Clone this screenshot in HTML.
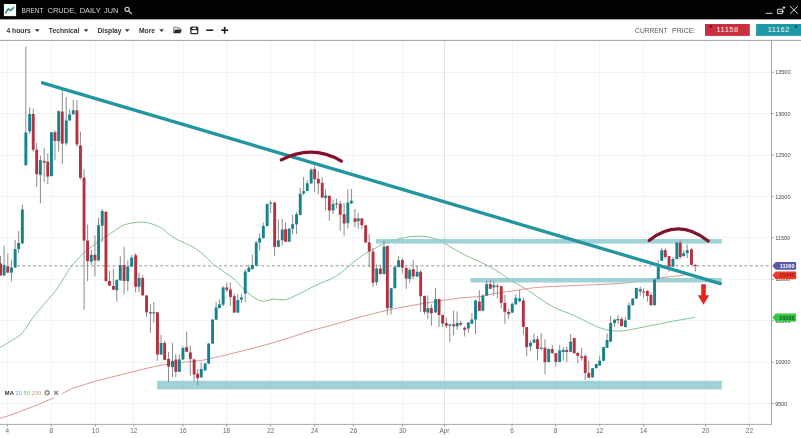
<!DOCTYPE html>
<html><head><meta charset="utf-8"><title>Brent Crude Chart</title><style>
html,body{margin:0;padding:0;background:#fff;overflow:hidden;width:801px;height:438px}
svg{display:block}
text{font-family:"Liberation Sans",sans-serif}
.tt{font-size:6.6px;fill:#d9d9d9}
.tb{font-size:6.75px;font-weight:bold;fill:#333}
.cp{font-size:6.8px;fill:#555}
.pr{font-size:7.6px;fill:#fbeef0;letter-spacing:0.45px}
.ax{font-size:5.5px;fill:#444}
.dx{font-size:6.4px;fill:#666}
.tg{font-size:5.6px;font-weight:bold}
.lg{font-size:5.8px}
</style></head>
<body><svg width="801" height="438" viewBox="0 0 801 438">
<rect width="801" height="438" fill="#fff"/>
<g><g stroke="#f3f3f3" stroke-width="1" shape-rendering="crispEdges"><line x1="0" y1="72.2" x2="771" y2="72.2"/><line x1="0" y1="113.6" x2="771" y2="113.6"/><line x1="0" y1="155.0" x2="771" y2="155.0"/><line x1="0" y1="196.4" x2="771" y2="196.4"/><line x1="0" y1="237.8" x2="771" y2="237.8"/><line x1="0" y1="279.2" x2="771" y2="279.2"/><line x1="0" y1="320.7" x2="771" y2="320.7"/><line x1="0" y1="362.1" x2="771" y2="362.1"/><line x1="0" y1="403.5" x2="771" y2="403.5"/><line x1="7.6" y1="41" x2="7.6" y2="424"/><line x1="51.2" y1="41" x2="51.2" y2="424"/><line x1="95.2" y1="41" x2="95.2" y2="424"/><line x1="133.6" y1="41" x2="133.6" y2="424"/><line x1="183.0" y1="41" x2="183.0" y2="424"/><line x1="226.5" y1="41" x2="226.5" y2="424"/><line x1="270.8" y1="41" x2="270.8" y2="424"/><line x1="314.6" y1="41" x2="314.6" y2="424"/><line x1="353.4" y1="41" x2="353.4" y2="424"/><line x1="402.6" y1="41" x2="402.6" y2="424"/><line x1="512.0" y1="41" x2="512.0" y2="424"/><line x1="555.6" y1="41" x2="555.6" y2="424"/><line x1="599.8" y1="41" x2="599.8" y2="424"/><line x1="643.6" y1="41" x2="643.6" y2="424"/><line x1="705.6" y1="41" x2="705.6" y2="424"/><line x1="749.4" y1="41" x2="749.4" y2="424"/></g><line x1="444.4" y1="41" x2="444.4" y2="424" stroke="#e3e3e3" stroke-width="1" shape-rendering="crispEdges"/><path d="M0.0,347.5 C2.1,346.2 8.8,342.5 12.6,340.0 C16.4,337.5 19.2,336.2 22.6,332.5 C26.0,328.8 28.9,322.8 32.7,317.9 C36.5,312.9 41.0,307.8 45.2,302.8 C49.4,297.8 53.6,293.6 57.8,287.7 C62.0,281.8 66.2,273.2 70.4,267.6 C74.6,262.0 78.7,257.8 82.9,253.8 C87.1,249.8 91.1,247.1 95.5,243.8 C99.9,240.5 104.8,237.3 109.5,234.2 C114.2,231.1 118.7,227.1 123.7,225.1 C128.7,223.1 135.3,222.4 139.7,222.1 C144.1,221.8 146.4,222.4 150.0,223.4 C153.6,224.4 157.4,225.7 161.2,227.9 C164.9,230.2 168.8,234.5 172.5,236.9 C176.2,239.3 180.0,240.6 183.7,242.5 C187.4,244.4 191.2,245.7 194.9,248.1 C198.7,250.5 203.0,254.4 206.2,257.1 C209.3,259.9 210.7,262.0 213.8,264.6 C216.9,267.2 221.7,270.2 224.9,272.5 C228.1,274.8 229.7,275.3 232.9,278.1 C236.1,280.9 240.6,286.1 244.1,289.3 C247.6,292.5 250.5,295.3 253.7,297.3 C256.8,299.3 259.7,300.9 263.0,301.2 C266.3,301.5 270.0,299.3 273.6,299.1 C277.2,298.9 281.1,300.4 284.8,299.8 C288.6,299.2 292.4,297.0 296.1,295.3 C299.9,293.6 303.6,291.6 307.3,289.7 C311.0,287.8 314.7,285.7 318.5,284.0 C322.3,282.3 326.2,281.3 330.0,279.4 C333.8,277.5 337.6,275.3 341.4,272.5 C345.2,269.7 349.0,265.8 352.8,262.8 C356.6,259.8 360.4,256.8 364.2,254.3 C368.0,251.8 371.8,250.1 375.7,248.0 C379.6,245.9 383.6,243.4 387.4,241.9 C391.2,240.4 394.9,239.8 398.7,238.9 C402.4,238.0 406.2,237.1 409.9,236.7 C413.6,236.2 417.4,236.0 421.1,236.2 C424.9,236.4 429.2,237.2 432.4,238.0 C435.5,238.8 436.6,239.0 440.0,240.7 C443.4,242.4 448.4,245.8 452.6,248.2 C456.8,250.6 460.9,253.0 465.1,255.1 C469.3,257.2 473.5,258.8 477.7,260.8 C481.9,262.8 486.6,265.0 490.3,267.0 C494.0,269.0 496.5,270.6 500.0,272.9 C503.5,275.2 507.6,278.4 511.4,280.8 C515.2,283.2 519.0,284.8 522.8,287.1 C526.6,289.4 530.4,291.9 534.2,294.5 C538.0,297.1 541.8,300.1 545.6,302.5 C549.4,304.9 553.1,307.0 557.0,308.8 C560.9,310.6 564.6,311.5 568.7,313.2 C572.8,314.9 577.4,317.1 581.8,319.2 C586.2,321.3 590.5,324.0 594.9,325.8 C599.3,327.6 603.6,329.3 608.0,330.2 C612.4,331.1 616.7,331.2 621.1,331.0 C625.5,330.8 629.8,329.7 634.2,328.9 C638.6,328.1 642.9,327.2 647.3,326.3 C651.7,325.4 656.0,324.6 660.4,323.7 C664.8,322.8 667.8,322.2 673.5,321.1 C679.2,320.1 691.2,318.0 694.7,317.4" fill="none" stroke="#86c392" stroke-width="1"/><path d="M0.0,418.3 C1.3,417.9 5.2,416.8 7.8,416.0 C10.4,415.2 12.9,414.2 15.5,413.3 C18.1,412.4 20.7,411.3 23.3,410.3 C25.9,409.3 28.4,408.2 31.0,407.2 C33.6,406.2 36.2,405.4 38.8,404.4 C41.4,403.3 44.3,401.9 46.6,400.9 C48.9,399.9 50.6,399.4 52.8,398.4 C55.0,397.4 57.1,396.5 60.0,395.0 C62.9,393.5 66.7,390.9 70.0,389.4 C73.3,387.9 75.0,387.6 80.0,386.0 C85.0,384.4 93.3,381.8 100.0,380.0 C106.7,378.2 113.3,376.7 120.0,375.0 C126.7,373.3 133.3,371.6 140.0,370.0 C146.7,368.4 153.3,366.6 160.0,365.4 C166.7,364.2 173.3,363.4 180.0,362.6 C186.7,361.8 195.0,361.3 200.0,360.6 C205.0,359.9 205.0,359.7 210.0,358.6 C215.0,357.5 223.3,355.6 230.0,354.0 C236.7,352.4 243.3,350.7 250.0,349.0 C256.7,347.3 263.3,345.5 270.0,343.6 C276.7,341.7 283.3,339.7 290.0,337.6 C296.7,335.5 303.3,333.0 310.0,331.0 C316.7,329.0 324.2,327.2 330.0,325.6 C335.8,324.0 340.0,322.7 345.0,321.3 C350.0,319.9 354.2,318.6 360.0,317.0 C365.8,315.4 373.3,313.6 380.0,312.0 C386.7,310.4 393.3,308.9 400.0,307.6 C406.7,306.3 413.3,305.1 420.0,304.0 C426.7,302.9 433.3,302.0 440.0,301.0 C446.7,300.0 453.3,298.8 460.0,298.0 C466.7,297.2 475.0,297.1 480.0,296.5 C485.0,295.9 486.1,295.2 490.0,294.5 C493.9,293.8 499.8,292.8 503.4,292.2 C507.0,291.6 508.2,291.6 511.4,291.1 C514.6,290.6 519.0,289.8 522.8,289.2 C526.6,288.6 530.4,288.1 534.2,287.7 C538.0,287.3 541.3,287.1 545.6,286.9 C549.9,286.6 555.1,286.4 560.0,286.2 C564.9,286.0 568.2,285.8 574.9,285.5 C581.5,285.2 591.6,284.9 599.9,284.5 C608.2,284.1 618.1,283.6 624.8,283.0 C631.4,282.4 634.8,281.9 639.8,281.2 C644.8,280.4 649.1,279.3 654.9,278.5 C660.7,277.7 669.8,276.8 674.8,276.2 C679.8,275.6 683.1,275.2 684.8,275.0" fill="none" stroke="#dc9792" stroke-width="1"/><g fill="#8ecbd0" fill-opacity="0.86"><rect x="376" y="239" width="345.8" height="4.6"/><rect x="470.5" y="278" width="251.3" height="4.5"/><rect x="157.1" y="380.8" width="564.7" height="8.6"/></g><line x1="17.06" y1="265.8" x2="771" y2="265.8" stroke="#b8b8b8" stroke-width="1.4" stroke-dasharray="2.9,2.41"/><g stroke="#8c8c8c" stroke-width="1"><line x1="0.5" y1="255.9" x2="0.5" y2="276.0"/><line x1="4.1" y1="245.6" x2="4.1" y2="276.4"/><line x1="7.8" y1="253.6" x2="7.8" y2="273.0"/><line x1="11.4" y1="259.8" x2="11.4" y2="281.5"/><line x1="15.1" y1="240.0" x2="15.1" y2="268.0"/><line x1="18.7" y1="231.0" x2="18.7" y2="253.0"/><line x1="22.4" y1="204.8" x2="22.4" y2="244.0"/><line x1="25.8" y1="46.4" x2="25.8" y2="165.5"/><line x1="29.7" y1="107.4" x2="29.7" y2="134.0"/><line x1="33.2" y1="108.6" x2="33.2" y2="151.8"/><line x1="36.7" y1="142.7" x2="36.7" y2="187.0"/><line x1="40.4" y1="155.6" x2="40.4" y2="203.2"/><line x1="44.2" y1="148.0" x2="44.2" y2="182.0"/><line x1="47.8" y1="153.3" x2="47.8" y2="184.3"/><line x1="51.5" y1="132.0" x2="51.5" y2="176.5"/><line x1="55.0" y1="130.3" x2="55.0" y2="160.2"/><line x1="58.7" y1="110.5" x2="58.7" y2="151.5"/><line x1="62.3" y1="89.7" x2="62.3" y2="164.2"/><line x1="66.2" y1="97.0" x2="66.2" y2="145.5"/><line x1="69.7" y1="109.3" x2="69.7" y2="121.0"/><line x1="73.3" y1="99.8" x2="73.3" y2="115.0"/><line x1="76.9" y1="99.8" x2="76.9" y2="147.0"/><line x1="80.4" y1="131.6" x2="80.4" y2="179.5"/><line x1="84.1" y1="169.2" x2="84.1" y2="309.7"/><line x1="87.6" y1="224.6" x2="87.6" y2="281.0"/><line x1="91.3" y1="250.0" x2="91.3" y2="265.0"/><line x1="94.9" y1="235.4" x2="94.9" y2="276.4"/><line x1="98.6" y1="217.8" x2="98.6" y2="261.0"/><line x1="102.2" y1="209.0" x2="102.2" y2="242.2"/><line x1="105.9" y1="211.0" x2="105.9" y2="282.0"/><line x1="109.5" y1="270.7" x2="109.5" y2="286.0"/><line x1="113.4" y1="268.9" x2="113.4" y2="290.2"/><line x1="116.8" y1="279.0" x2="116.8" y2="301.7"/><line x1="120.3" y1="255.9" x2="120.3" y2="281.0"/><line x1="124.1" y1="246.8" x2="124.1" y2="294.5"/><line x1="127.8" y1="260.5" x2="127.8" y2="291.3"/><line x1="131.7" y1="254.8" x2="131.7" y2="267.0"/><line x1="135.6" y1="253.0" x2="135.6" y2="292.4"/><line x1="139.0" y1="272.6" x2="139.0" y2="292.4"/><line x1="142.7" y1="275.3" x2="142.7" y2="296.0"/><line x1="146.5" y1="295.0" x2="146.5" y2="317.0"/><line x1="150.4" y1="304.3" x2="150.4" y2="332.9"/><line x1="153.8" y1="302.0" x2="153.8" y2="322.6"/><line x1="157.4" y1="312.0" x2="157.4" y2="360.8"/><line x1="161.0" y1="334.8" x2="161.0" y2="355.0"/><line x1="164.6" y1="340.7" x2="164.6" y2="360.2"/><line x1="168.5" y1="352.1" x2="168.5" y2="382.5"/><line x1="172.5" y1="343.0" x2="172.5" y2="377.3"/><line x1="175.8" y1="354.0" x2="175.8" y2="377.3"/><line x1="179.3" y1="354.5" x2="179.3" y2="372.0"/><line x1="182.9" y1="345.8" x2="182.9" y2="360.0"/><line x1="186.7" y1="331.5" x2="186.7" y2="352.0"/><line x1="190.3" y1="345.7" x2="190.3" y2="375.5"/><line x1="194.1" y1="359.0" x2="194.1" y2="381.4"/><line x1="197.7" y1="369.0" x2="197.7" y2="385.5"/><line x1="201.2" y1="362.2" x2="201.2" y2="378.0"/><line x1="205.1" y1="363.0" x2="205.1" y2="371.0"/><line x1="208.6" y1="343.0" x2="208.6" y2="364.0"/><line x1="212.5" y1="319.0" x2="212.5" y2="344.0"/><line x1="216.1" y1="301.8" x2="216.1" y2="320.0"/><line x1="219.4" y1="299.6" x2="219.4" y2="308.3"/><line x1="223.1" y1="286.4" x2="223.1" y2="306.5"/><line x1="226.8" y1="282.6" x2="226.8" y2="292.2"/><line x1="230.4" y1="282.6" x2="230.4" y2="305.9"/><line x1="234.2" y1="293.3" x2="234.2" y2="313.0"/><line x1="237.8" y1="294.1" x2="237.8" y2="313.0"/><line x1="241.4" y1="294.1" x2="241.4" y2="302.9"/><line x1="245.2" y1="269.0" x2="245.2" y2="302.3"/><line x1="248.8" y1="264.9" x2="248.8" y2="272.0"/><line x1="252.3" y1="254.5" x2="252.3" y2="269.5"/><line x1="256.2" y1="240.8" x2="256.2" y2="266.0"/><line x1="259.7" y1="233.4" x2="259.7" y2="250.7"/><line x1="263.3" y1="222.5" x2="263.3" y2="238.5"/><line x1="267.1" y1="203.3" x2="267.1" y2="226.5"/><line x1="270.7" y1="200.5" x2="270.7" y2="212.9"/><line x1="274.6" y1="202.0" x2="274.6" y2="256.2"/><line x1="278.3" y1="219.3" x2="278.3" y2="247.0"/><line x1="282.2" y1="218.7" x2="282.2" y2="245.8"/><line x1="285.5" y1="222.5" x2="285.5" y2="242.0"/><line x1="289.1" y1="228.0" x2="289.1" y2="242.0"/><line x1="292.6" y1="214.8" x2="292.6" y2="234.2"/><line x1="296.5" y1="212.2" x2="296.5" y2="234.2"/><line x1="300.2" y1="187.8" x2="300.2" y2="215.5"/><line x1="303.6" y1="176.9" x2="303.6" y2="195.2"/><line x1="307.2" y1="179.9" x2="307.2" y2="191.6"/><line x1="311.1" y1="168.4" x2="311.1" y2="184.0"/><line x1="314.6" y1="165.9" x2="314.6" y2="192.0"/><line x1="318.3" y1="171.1" x2="318.3" y2="194.2"/><line x1="322.2" y1="177.4" x2="322.2" y2="198.5"/><line x1="325.6" y1="189.3" x2="325.6" y2="210.5"/><line x1="329.3" y1="195.5" x2="329.3" y2="220.8"/><line x1="333.0" y1="199.7" x2="333.0" y2="214.3"/><line x1="336.5" y1="198.5" x2="336.5" y2="208.5"/><line x1="340.2" y1="200.7" x2="340.2" y2="230.8"/><line x1="344.1" y1="203.2" x2="344.1" y2="235.7"/><line x1="347.8" y1="188.9" x2="347.8" y2="228.6"/><line x1="351.4" y1="188.9" x2="351.4" y2="204.0"/><line x1="355.0" y1="208.8" x2="355.0" y2="227.4"/><line x1="358.2" y1="213.2" x2="358.2" y2="228.6"/><line x1="361.9" y1="218.0" x2="361.9" y2="228.8"/><line x1="365.7" y1="225.0" x2="365.7" y2="243.0"/><line x1="369.2" y1="234.2" x2="369.2" y2="267.1"/><line x1="373.0" y1="248.0" x2="373.0" y2="287.1"/><line x1="376.6" y1="264.4" x2="376.6" y2="285.5"/><line x1="380.4" y1="264.4" x2="380.4" y2="274.5"/><line x1="384.0" y1="240.5" x2="384.0" y2="274.5"/><line x1="387.3" y1="245.5" x2="387.3" y2="315.1"/><line x1="391.1" y1="288.0" x2="391.1" y2="314.5"/><line x1="394.9" y1="265.8" x2="394.9" y2="288.5"/><line x1="398.5" y1="256.2" x2="398.5" y2="267.5"/><line x1="402.4" y1="258.1" x2="402.4" y2="273.4"/><line x1="406.2" y1="266.6" x2="406.2" y2="288.9"/><line x1="409.7" y1="267.9" x2="409.7" y2="282.7"/><line x1="413.2" y1="260.3" x2="413.2" y2="279.1"/><line x1="417.1" y1="265.8" x2="417.1" y2="277.0"/><line x1="420.6" y1="269.9" x2="420.6" y2="311.8"/><line x1="424.5" y1="295.5" x2="424.5" y2="314.5"/><line x1="427.8" y1="295.5" x2="427.8" y2="319.2"/><line x1="431.4" y1="304.4" x2="431.4" y2="325.9"/><line x1="435.5" y1="287.8" x2="435.5" y2="313.0"/><line x1="439.0" y1="298.5" x2="439.0" y2="327.1"/><line x1="442.6" y1="314.5" x2="442.6" y2="327.1"/><line x1="446.4" y1="317.5" x2="446.4" y2="328.3"/><line x1="449.8" y1="324.0" x2="449.8" y2="342.2"/><line x1="453.6" y1="310.7" x2="453.6" y2="335.3"/><line x1="457.1" y1="311.5" x2="457.1" y2="329.9"/><line x1="460.7" y1="320.8" x2="460.7" y2="325.8"/><line x1="464.6" y1="326.2" x2="464.6" y2="336.5"/><line x1="468.4" y1="322.0" x2="468.4" y2="332.6"/><line x1="471.9" y1="313.2" x2="471.9" y2="324.0"/><line x1="475.5" y1="300.0" x2="475.5" y2="334.5"/><line x1="479.3" y1="290.1" x2="479.3" y2="311.0"/><line x1="482.9" y1="294.2" x2="482.9" y2="311.0"/><line x1="486.7" y1="280.5" x2="486.7" y2="296.0"/><line x1="490.3" y1="279.7" x2="490.3" y2="289.0"/><line x1="493.8" y1="280.5" x2="493.8" y2="295.6"/><line x1="497.4" y1="283.7" x2="497.4" y2="298.1"/><line x1="501.2" y1="285.5" x2="501.2" y2="308.4"/><line x1="504.9" y1="294.7" x2="504.9" y2="324.1"/><line x1="508.6" y1="308.8" x2="508.6" y2="318.9"/><line x1="512.2" y1="302.5" x2="512.2" y2="313.0"/><line x1="515.8" y1="294.2" x2="515.8" y2="304.8"/><line x1="519.6" y1="290.1" x2="519.6" y2="302.5"/><line x1="523.4" y1="297.8" x2="523.4" y2="334.6"/><line x1="526.7" y1="327.0" x2="526.7" y2="356.4"/><line x1="530.5" y1="340.5" x2="530.5" y2="351.1"/><line x1="534.1" y1="333.4" x2="534.1" y2="343.0"/><line x1="537.5" y1="335.9" x2="537.5" y2="360.4"/><line x1="541.2" y1="333.2" x2="541.2" y2="350.5"/><line x1="545.0" y1="339.2" x2="545.0" y2="374.3"/><line x1="548.7" y1="348.5" x2="548.7" y2="362.5"/><line x1="552.3" y1="344.9" x2="552.3" y2="353.5"/><line x1="555.9" y1="353.0" x2="555.9" y2="366.3"/><line x1="559.7" y1="344.9" x2="559.7" y2="362.3"/><line x1="563.3" y1="347.3" x2="563.3" y2="360.7"/><line x1="566.8" y1="346.3" x2="566.8" y2="362.2"/><line x1="570.7" y1="334.0" x2="570.7" y2="352.0"/><line x1="574.2" y1="337.5" x2="574.2" y2="353.5"/><line x1="577.8" y1="351.5" x2="577.8" y2="363.3"/><line x1="581.6" y1="347.9" x2="581.6" y2="360.7"/><line x1="585.2" y1="354.0" x2="585.2" y2="380.0"/><line x1="588.8" y1="360.7" x2="588.8" y2="378.0"/><line x1="592.6" y1="368.0" x2="592.6" y2="377.6"/><line x1="596.2" y1="363.8" x2="596.2" y2="368.5"/><line x1="599.7" y1="355.9" x2="599.7" y2="365.8"/><line x1="603.6" y1="346.8" x2="603.6" y2="361.0"/><line x1="607.1" y1="333.4" x2="607.1" y2="348.0"/><line x1="610.7" y1="316.2" x2="610.7" y2="342.0"/><line x1="614.6" y1="319.0" x2="614.6" y2="327.0"/><line x1="618.0" y1="315.1" x2="618.0" y2="323.7"/><line x1="621.6" y1="316.8" x2="621.6" y2="326.6"/><line x1="625.4" y1="317.1" x2="625.4" y2="327.7"/><line x1="629.0" y1="302.5" x2="629.0" y2="320.0"/><line x1="632.8" y1="298.3" x2="632.8" y2="305.5"/><line x1="636.4" y1="287.6" x2="636.4" y2="299.0"/><line x1="640.3" y1="286.8" x2="640.3" y2="295.6"/><line x1="643.6" y1="288.5" x2="643.6" y2="297.5"/><line x1="647.4" y1="289.9" x2="647.4" y2="301.7"/><line x1="651.0" y1="292.3" x2="651.0" y2="305.5"/><line x1="654.6" y1="279.0" x2="654.6" y2="305.5"/><line x1="658.2" y1="260.0" x2="658.2" y2="279.5"/><line x1="661.8" y1="247.9" x2="661.8" y2="261.0"/><line x1="665.2" y1="248.3" x2="665.2" y2="259.0"/><line x1="669.1" y1="255.8" x2="669.1" y2="271.6"/><line x1="673.0" y1="257.0" x2="673.0" y2="267.0"/><line x1="676.9" y1="242.1" x2="676.9" y2="259.3"/><line x1="680.2" y1="239.6" x2="680.2" y2="259.0"/><line x1="683.7" y1="250.2" x2="683.7" y2="256.5"/><line x1="687.2" y1="244.4" x2="687.2" y2="258.0"/><line x1="691.5" y1="248.3" x2="691.5" y2="265.0"/><line x1="695.3" y1="264.5" x2="695.3" y2="271.6"/></g><rect x="-0.9" y="263.4" width="2.9" height="11.9" fill="#b5313f"/><rect x="2.6" y="265.0" width="2.9" height="10.3" fill="#15828d"/><rect x="6.3" y="266.2" width="2.9" height="6.4" fill="#b5313f"/><rect x="10.0" y="267.5" width="2.9" height="5.1" fill="#15828d"/><rect x="13.7" y="249.0" width="2.9" height="18.5" fill="#15828d"/><rect x="17.2" y="243.0" width="2.9" height="6.0" fill="#15828d"/><rect x="20.9" y="209.5" width="2.9" height="33.8" fill="#15828d"/><rect x="24.4" y="132.4" width="2.9" height="32.8" fill="#15828d"/><rect x="28.2" y="114.0" width="2.9" height="17.4" fill="#15828d"/><rect x="31.8" y="114.0" width="2.9" height="35.7" fill="#b5313f"/><rect x="35.2" y="149.7" width="2.9" height="24.5" fill="#b5313f"/><rect x="38.9" y="160.2" width="2.9" height="14.6" fill="#15828d"/><rect x="42.8" y="161.0" width="2.9" height="1.5" fill="#b5313f"/><rect x="46.3" y="161.7" width="2.9" height="14.9" fill="#b5313f"/><rect x="50.0" y="132.3" width="2.9" height="43.6" fill="#15828d"/><rect x="53.5" y="132.3" width="2.9" height="8.7" fill="#b5313f"/><rect x="57.2" y="111.2" width="2.9" height="29.8" fill="#15828d"/><rect x="60.8" y="111.6" width="2.9" height="32.0" fill="#b5313f"/><rect x="64.8" y="120.4" width="2.9" height="22.9" fill="#15828d"/><rect x="68.2" y="114.5" width="2.9" height="5.9" fill="#15828d"/><rect x="71.8" y="110.3" width="2.9" height="3.9" fill="#15828d"/><rect x="75.5" y="110.3" width="2.9" height="34.2" fill="#b5313f"/><rect x="79.0" y="145.4" width="2.9" height="32.4" fill="#b5313f"/><rect x="82.6" y="177.5" width="2.9" height="63.1" fill="#b5313f"/><rect x="86.1" y="240.6" width="2.9" height="20.5" fill="#b5313f"/><rect x="89.8" y="254.8" width="2.9" height="6.8" fill="#15828d"/><rect x="93.5" y="254.8" width="2.9" height="5.7" fill="#b5313f"/><rect x="97.1" y="225.1" width="2.9" height="35.4" fill="#15828d"/><rect x="100.8" y="211.0" width="2.9" height="14.6" fill="#15828d"/><rect x="104.5" y="211.8" width="2.9" height="69.2" fill="#b5313f"/><rect x="108.0" y="281.0" width="2.9" height="4.6" fill="#b5313f"/><rect x="112.0" y="286.0" width="2.9" height="3.7" fill="#b5313f"/><rect x="115.3" y="280.1" width="2.9" height="10.1" fill="#15828d"/><rect x="118.8" y="265.0" width="2.9" height="15.3" fill="#15828d"/><rect x="122.6" y="265.0" width="2.9" height="16.0" fill="#b5313f"/><rect x="126.3" y="266.6" width="2.9" height="14.4" fill="#15828d"/><rect x="130.2" y="257.5" width="2.9" height="9.1" fill="#15828d"/><rect x="134.2" y="255.2" width="2.9" height="31.5" fill="#b5313f"/><rect x="137.6" y="278.0" width="2.9" height="8.7" fill="#15828d"/><rect x="141.2" y="278.0" width="2.9" height="17.3" fill="#b5313f"/><rect x="145.1" y="295.5" width="2.9" height="16.8" fill="#b5313f"/><rect x="149.0" y="312.2" width="2.9" height="1.2" fill="#b5313f"/><rect x="152.4" y="312.2" width="2.9" height="1.2" fill="#15828d"/><rect x="156.0" y="312.3" width="2.9" height="42.2" fill="#b5313f"/><rect x="159.6" y="343.0" width="2.9" height="11.5" fill="#15828d"/><rect x="163.2" y="342.9" width="2.9" height="17.0" fill="#b5313f"/><rect x="167.1" y="358.9" width="2.9" height="7.6" fill="#b5313f"/><rect x="171.1" y="360.8" width="2.9" height="6.3" fill="#15828d"/><rect x="174.4" y="359.5" width="2.9" height="12.3" fill="#b5313f"/><rect x="177.9" y="359.5" width="2.9" height="12.3" fill="#15828d"/><rect x="181.5" y="348.0" width="2.9" height="11.5" fill="#15828d"/><rect x="185.2" y="347.1" width="2.9" height="4.7" fill="#b5313f"/><rect x="188.9" y="352.4" width="2.9" height="6.5" fill="#b5313f"/><rect x="192.7" y="359.5" width="2.9" height="15.0" fill="#b5313f"/><rect x="196.2" y="373.7" width="2.9" height="4.4" fill="#b5313f"/><rect x="199.8" y="369.0" width="2.9" height="8.3" fill="#15828d"/><rect x="203.7" y="363.6" width="2.9" height="6.8" fill="#15828d"/><rect x="207.2" y="343.6" width="2.9" height="20.0" fill="#15828d"/><rect x="211.1" y="319.7" width="2.9" height="23.9" fill="#15828d"/><rect x="214.7" y="307.6" width="2.9" height="12.1" fill="#15828d"/><rect x="218.0" y="304.3" width="2.9" height="3.7" fill="#15828d"/><rect x="221.7" y="287.5" width="2.9" height="17.2" fill="#15828d"/><rect x="225.4" y="287.4" width="2.9" height="2.5" fill="#b5313f"/><rect x="229.0" y="289.5" width="2.9" height="7.5" fill="#b5313f"/><rect x="232.8" y="296.2" width="2.9" height="16.3" fill="#b5313f"/><rect x="236.4" y="300.1" width="2.9" height="12.4" fill="#15828d"/><rect x="240.0" y="297.4" width="2.9" height="2.2" fill="#15828d"/><rect x="243.8" y="271.6" width="2.9" height="21.9" fill="#15828d"/><rect x="247.4" y="267.7" width="2.9" height="4.1" fill="#15828d"/><rect x="250.9" y="264.9" width="2.9" height="4.1" fill="#15828d"/><rect x="254.8" y="242.5" width="2.9" height="23.0" fill="#15828d"/><rect x="258.2" y="238.1" width="2.9" height="4.4" fill="#15828d"/><rect x="261.9" y="226.0" width="2.9" height="12.1" fill="#15828d"/><rect x="265.7" y="204.1" width="2.9" height="21.9" fill="#15828d"/><rect x="269.2" y="202.6" width="2.9" height="1.0" fill="#15828d"/><rect x="273.2" y="202.6" width="2.9" height="44.2" fill="#b5313f"/><rect x="276.9" y="240.3" width="2.9" height="6.5" fill="#15828d"/><rect x="280.8" y="229.6" width="2.9" height="10.7" fill="#15828d"/><rect x="284.1" y="229.3" width="2.9" height="12.4" fill="#b5313f"/><rect x="287.7" y="228.7" width="2.9" height="13.0" fill="#15828d"/><rect x="291.2" y="224.2" width="2.9" height="4.5" fill="#15828d"/><rect x="295.1" y="214.2" width="2.9" height="10.2" fill="#15828d"/><rect x="298.8" y="193.8" width="2.9" height="21.2" fill="#15828d"/><rect x="302.2" y="191.1" width="2.9" height="2.3" fill="#15828d"/><rect x="305.8" y="183.3" width="2.9" height="7.6" fill="#15828d"/><rect x="309.7" y="169.7" width="2.9" height="13.7" fill="#15828d"/><rect x="313.2" y="169.1" width="2.9" height="10.1" fill="#b5313f"/><rect x="316.9" y="178.8" width="2.9" height="4.6" fill="#b5313f"/><rect x="320.8" y="182.9" width="2.9" height="14.6" fill="#b5313f"/><rect x="324.2" y="195.6" width="2.9" height="2.3" fill="#15828d"/><rect x="327.9" y="195.8" width="2.9" height="14.7" fill="#b5313f"/><rect x="331.6" y="204.0" width="2.9" height="6.5" fill="#15828d"/><rect x="335.1" y="203.4" width="2.9" height="1.1" fill="#15828d"/><rect x="338.8" y="203.7" width="2.9" height="11.0" fill="#b5313f"/><rect x="342.7" y="214.2" width="2.9" height="9.3" fill="#b5313f"/><rect x="346.4" y="202.6" width="2.9" height="20.6" fill="#15828d"/><rect x="349.9" y="200.7" width="2.9" height="2.7" fill="#15828d"/><rect x="353.6" y="218.4" width="2.9" height="3.4" fill="#b5313f"/><rect x="356.8" y="218.4" width="2.9" height="2.8" fill="#15828d"/><rect x="360.4" y="218.4" width="2.9" height="6.8" fill="#b5313f"/><rect x="364.2" y="225.2" width="2.9" height="17.2" fill="#b5313f"/><rect x="367.8" y="242.4" width="2.9" height="9.1" fill="#b5313f"/><rect x="371.6" y="251.5" width="2.9" height="31.2" fill="#b5313f"/><rect x="375.2" y="268.5" width="2.9" height="13.7" fill="#15828d"/><rect x="378.9" y="268.5" width="2.9" height="5.5" fill="#b5313f"/><rect x="382.6" y="246.6" width="2.9" height="27.4" fill="#15828d"/><rect x="385.9" y="246.0" width="2.9" height="62.2" fill="#b5313f"/><rect x="389.7" y="288.2" width="2.9" height="20.0" fill="#15828d"/><rect x="393.4" y="267.1" width="2.9" height="21.1" fill="#15828d"/><rect x="397.1" y="260.3" width="2.9" height="6.8" fill="#15828d"/><rect x="400.9" y="260.0" width="2.9" height="7.7" fill="#b5313f"/><rect x="404.8" y="268.0" width="2.9" height="10.6" fill="#b5313f"/><rect x="408.2" y="269.9" width="2.9" height="9.0" fill="#15828d"/><rect x="411.8" y="269.2" width="2.9" height="7.3" fill="#b5313f"/><rect x="415.7" y="271.8" width="2.9" height="4.9" fill="#15828d"/><rect x="419.2" y="271.8" width="2.9" height="24.4" fill="#b5313f"/><rect x="423.1" y="295.9" width="2.9" height="15.9" fill="#b5313f"/><rect x="426.4" y="308.1" width="2.9" height="4.4" fill="#15828d"/><rect x="429.9" y="308.1" width="2.9" height="5.2" fill="#b5313f"/><rect x="434.1" y="299.1" width="2.9" height="13.3" fill="#15828d"/><rect x="437.6" y="299.1" width="2.9" height="15.9" fill="#b5313f"/><rect x="441.2" y="315.0" width="2.9" height="8.6" fill="#b5313f"/><rect x="444.9" y="323.1" width="2.9" height="2.6" fill="#b5313f"/><rect x="448.4" y="324.2" width="2.9" height="1.5" fill="#15828d"/><rect x="452.2" y="324.4" width="2.9" height="1.9" fill="#b5313f"/><rect x="455.7" y="323.0" width="2.9" height="3.3" fill="#15828d"/><rect x="459.2" y="323.0" width="2.9" height="1.7" fill="#b5313f"/><rect x="463.2" y="327.8" width="2.9" height="2.0" fill="#b5313f"/><rect x="466.9" y="322.5" width="2.9" height="6.0" fill="#15828d"/><rect x="470.4" y="319.5" width="2.9" height="4.2" fill="#15828d"/><rect x="474.1" y="300.5" width="2.9" height="19.0" fill="#15828d"/><rect x="477.9" y="301.6" width="2.9" height="9.1" fill="#b5313f"/><rect x="481.4" y="295.6" width="2.9" height="15.1" fill="#15828d"/><rect x="485.2" y="284.1" width="2.9" height="11.5" fill="#15828d"/><rect x="488.9" y="284.1" width="2.9" height="4.7" fill="#b5313f"/><rect x="492.4" y="285.2" width="2.9" height="2.2" fill="#15828d"/><rect x="495.9" y="285.8" width="2.9" height="1.0" fill="#b5313f"/><rect x="499.8" y="286.2" width="2.9" height="16.7" fill="#b5313f"/><rect x="503.4" y="302.9" width="2.9" height="8.9" fill="#b5313f"/><rect x="507.2" y="312.0" width="2.9" height="2.2" fill="#b5313f"/><rect x="510.8" y="303.8" width="2.9" height="8.8" fill="#15828d"/><rect x="514.3" y="297.8" width="2.9" height="6.6" fill="#15828d"/><rect x="518.1" y="298.4" width="2.9" height="2.7" fill="#15828d"/><rect x="521.9" y="300.5" width="2.9" height="26.3" fill="#b5313f"/><rect x="525.2" y="327.1" width="2.9" height="20.0" fill="#b5313f"/><rect x="529.0" y="342.8" width="2.9" height="3.6" fill="#15828d"/><rect x="532.6" y="339.5" width="2.9" height="3.2" fill="#15828d"/><rect x="536.0" y="339.2" width="2.9" height="9.8" fill="#b5313f"/><rect x="539.8" y="347.6" width="2.9" height="1.2" fill="#15828d"/><rect x="543.5" y="347.8" width="2.9" height="14.3" fill="#b5313f"/><rect x="547.2" y="349.0" width="2.9" height="13.0" fill="#15828d"/><rect x="550.8" y="349.0" width="2.9" height="4.2" fill="#b5313f"/><rect x="554.4" y="353.2" width="2.9" height="8.7" fill="#b5313f"/><rect x="558.2" y="350.4" width="2.9" height="11.5" fill="#15828d"/><rect x="561.8" y="349.9" width="2.9" height="2.1" fill="#15828d"/><rect x="565.3" y="349.9" width="2.9" height="2.1" fill="#b5313f"/><rect x="569.2" y="341.6" width="2.9" height="10.2" fill="#15828d"/><rect x="572.8" y="338.1" width="2.9" height="15.1" fill="#b5313f"/><rect x="576.3" y="353.0" width="2.9" height="3.0" fill="#b5313f"/><rect x="580.1" y="356.4" width="2.9" height="1.4" fill="#b5313f"/><rect x="583.8" y="356.1" width="2.9" height="16.9" fill="#b5313f"/><rect x="587.3" y="373.0" width="2.9" height="4.7" fill="#b5313f"/><rect x="591.1" y="368.2" width="2.9" height="9.1" fill="#15828d"/><rect x="594.8" y="364.1" width="2.9" height="4.1" fill="#15828d"/><rect x="598.2" y="360.8" width="2.9" height="4.7" fill="#15828d"/><rect x="602.1" y="347.1" width="2.9" height="13.7" fill="#15828d"/><rect x="605.6" y="340.0" width="2.9" height="7.7" fill="#15828d"/><rect x="609.2" y="323.0" width="2.9" height="18.6" fill="#15828d"/><rect x="613.1" y="319.7" width="2.9" height="3.4" fill="#15828d"/><rect x="616.5" y="318.8" width="2.9" height="1.6" fill="#15828d"/><rect x="620.1" y="319.1" width="2.9" height="7.0" fill="#b5313f"/><rect x="623.9" y="320.4" width="2.9" height="6.6" fill="#15828d"/><rect x="627.5" y="305.2" width="2.9" height="14.5" fill="#15828d"/><rect x="631.3" y="298.6" width="2.9" height="6.6" fill="#15828d"/><rect x="634.9" y="288.0" width="2.9" height="10.6" fill="#15828d"/><rect x="638.8" y="289.2" width="2.9" height="2.3" fill="#15828d"/><rect x="642.1" y="291.5" width="2.9" height="1.0" fill="#b5313f"/><rect x="645.9" y="291.0" width="2.9" height="4.9" fill="#b5313f"/><rect x="649.5" y="294.9" width="2.9" height="10.3" fill="#b5313f"/><rect x="653.1" y="279.4" width="2.9" height="25.8" fill="#15828d"/><rect x="656.8" y="266.8" width="2.9" height="12.4" fill="#15828d"/><rect x="660.3" y="250.2" width="2.9" height="10.6" fill="#15828d"/><rect x="663.8" y="250.2" width="2.9" height="6.8" fill="#b5313f"/><rect x="667.6" y="256.1" width="2.9" height="10.6" fill="#b5313f"/><rect x="671.5" y="259.0" width="2.9" height="7.7" fill="#15828d"/><rect x="675.4" y="242.5" width="2.9" height="16.5" fill="#15828d"/><rect x="678.8" y="242.9" width="2.9" height="14.1" fill="#b5313f"/><rect x="682.2" y="253.2" width="2.9" height="2.9" fill="#15828d"/><rect x="685.8" y="250.2" width="2.9" height="3.0" fill="#15828d"/><rect x="690.0" y="249.3" width="2.9" height="15.5" fill="#b5313f"/><rect x="693.8" y="264.8" width="2.9" height="1.2" fill="#b5313f"/><line x1="42.5" y1="82.8" x2="720.3" y2="283.6" stroke="#2395a0" stroke-width="3.3" stroke-linecap="round"/><path d="M281.4,159.9 Q312,143.9 341.4,161.1" fill="none" stroke="#82112a" stroke-width="3.2" stroke-linecap="round"/><path d="M649.2,240.4 Q678.4,217.1 708.2,241.1" fill="none" stroke="#82112a" stroke-width="3.2" stroke-linecap="round"/><path d="M701.2,284.2 H705.8 V295.3 H709.2 L703.5,304.8 L697.8,295.3 H701.2 Z" fill="#e2281c"/></g>
<g><line x1="771.5" y1="41" x2="771.5" y2="424.9" stroke="#a9a9a9" stroke-width="1"/><line x1="0" y1="424.4" x2="772" y2="424.4" stroke="#a9a9a9" stroke-width="1"/><line x1="772" y1="72.2" x2="773.5" y2="72.2" stroke="#888" stroke-width="1"/><text x="775.2" y="74.3" class="ax">13500</text><line x1="772" y1="113.6" x2="773.5" y2="113.6" stroke="#888" stroke-width="1"/><text x="775.2" y="115.7" class="ax">13000</text><line x1="772" y1="155.0" x2="773.5" y2="155.0" stroke="#888" stroke-width="1"/><text x="775.2" y="157.1" class="ax">12500</text><line x1="772" y1="196.4" x2="773.5" y2="196.4" stroke="#888" stroke-width="1"/><text x="775.2" y="198.5" class="ax">12000</text><line x1="772" y1="237.8" x2="773.5" y2="237.8" stroke="#888" stroke-width="1"/><text x="775.2" y="239.9" class="ax">11500</text><line x1="772" y1="279.2" x2="773.5" y2="279.2" stroke="#888" stroke-width="1"/><text x="775.2" y="281.4" class="ax">11000</text><line x1="772" y1="320.7" x2="773.5" y2="320.7" stroke="#888" stroke-width="1"/><text x="775.2" y="322.8" class="ax">10500</text><line x1="772" y1="362.1" x2="773.5" y2="362.1" stroke="#888" stroke-width="1"/><text x="775.2" y="364.2" class="ax">10000</text><line x1="772" y1="403.5" x2="773.5" y2="403.5" stroke="#888" stroke-width="1"/><text x="775.2" y="405.6" class="ax">9500</text><line x1="7.4" y1="424.5" x2="7.4" y2="426.5" stroke="#999" stroke-width="1"/><text x="7.4" y="433.2" class="dx" text-anchor="middle">4</text><line x1="51.2" y1="424.5" x2="51.2" y2="426.5" stroke="#999" stroke-width="1"/><text x="51.2" y="433.2" class="dx" text-anchor="middle">8</text><line x1="95.4" y1="424.5" x2="95.4" y2="426.5" stroke="#999" stroke-width="1"/><text x="95.4" y="433.2" class="dx" text-anchor="middle">10</text><line x1="133.8" y1="424.5" x2="133.8" y2="426.5" stroke="#999" stroke-width="1"/><text x="133.8" y="433.2" class="dx" text-anchor="middle">12</text><line x1="183.0" y1="424.5" x2="183.0" y2="426.5" stroke="#999" stroke-width="1"/><text x="183.0" y="433.2" class="dx" text-anchor="middle">16</text><line x1="226.5" y1="424.5" x2="226.5" y2="426.5" stroke="#999" stroke-width="1"/><text x="226.5" y="433.2" class="dx" text-anchor="middle">18</text><line x1="270.8" y1="424.5" x2="270.8" y2="426.5" stroke="#999" stroke-width="1"/><text x="270.8" y="433.2" class="dx" text-anchor="middle">22</text><line x1="314.6" y1="424.5" x2="314.6" y2="426.5" stroke="#999" stroke-width="1"/><text x="314.6" y="433.2" class="dx" text-anchor="middle">24</text><line x1="353.4" y1="424.5" x2="353.4" y2="426.5" stroke="#999" stroke-width="1"/><text x="353.4" y="433.2" class="dx" text-anchor="middle">26</text><line x1="402.6" y1="424.5" x2="402.6" y2="426.5" stroke="#999" stroke-width="1"/><text x="402.6" y="433.2" class="dx" text-anchor="middle">30</text><line x1="444.4" y1="424.5" x2="444.4" y2="426.5" stroke="#999" stroke-width="1"/><text x="444.4" y="433.2" class="dx" text-anchor="middle">Apr</text><line x1="512.0" y1="424.5" x2="512.0" y2="426.5" stroke="#999" stroke-width="1"/><text x="512.0" y="433.2" class="dx" text-anchor="middle">6</text><line x1="555.6" y1="424.5" x2="555.6" y2="426.5" stroke="#999" stroke-width="1"/><text x="555.6" y="433.2" class="dx" text-anchor="middle">8</text><line x1="599.8" y1="424.5" x2="599.8" y2="426.5" stroke="#999" stroke-width="1"/><text x="599.8" y="433.2" class="dx" text-anchor="middle">12</text><line x1="643.6" y1="424.5" x2="643.6" y2="426.5" stroke="#999" stroke-width="1"/><text x="643.6" y="433.2" class="dx" text-anchor="middle">14</text><line x1="705.6" y1="424.5" x2="705.6" y2="426.5" stroke="#999" stroke-width="1"/><text x="705.6" y="433.2" class="dx" text-anchor="middle">20</text><line x1="749.4" y1="424.5" x2="749.4" y2="426.5" stroke="#999" stroke-width="1"/><text x="749.4" y="433.2" class="dx" text-anchor="middle">22</text><path d="M772.3,265.8 L775.8,261.9 H795.2 Q796.2,261.9 796.2,262.9 V268.7 Q796.2,269.7 795.2,269.7 H775.8 Z" fill="#5a58a8"/><text x="794.6" y="267.8" class="tg" text-anchor="end" fill="#ffffff">11160</text><path d="M772.3,275.3 L775.8,271.4 H795.2 Q796.2,271.4 796.2,272.4 V278.2 Q796.2,279.2 795.2,279.2 H775.8 Z" fill="#ef3b2c"/><text x="794.6" y="277.3" class="tg" text-anchor="end" fill="#8f1a12">11045</text><path d="M772.3,317.6 L775.8,313.5 H795.2 Q796.2,313.5 796.2,314.5 V320.7 Q796.2,321.7 795.2,321.7 H775.8 Z" fill="#35c745"/><text x="794.6" y="319.6" class="tg" text-anchor="end" fill="#12591b">10536</text><rect x="2" y="387.5" width="60" height="10.5" fill="#fff"/><text x="4.8" y="394.6" class="lg"><tspan font-weight="bold" fill="#333">MA</tspan> <tspan fill="#6fa6d8">20</tspan> <tspan fill="#6cc077">50</tspan> <tspan fill="#da938b">200</tspan></text><circle cx="47.2" cy="392.8" r="2" fill="none" stroke="#8a8a8a" stroke-width="1.4"/><path d="M54.2,391 L57.9,394.7 M57.9,391 L54.2,394.7" stroke="#8a8a8a" stroke-width="1.3"/></g>
<g><rect x="0" y="0" width="801" height="19.6" fill="#020202"/><rect x="3.9" y="4" width="12.2" height="12.1" fill="#f3f8f8"/><polyline points="5.5,13.4 8.4,8.7 10.6,10.5 14,7.2" fill="none" stroke="#2b7f80" stroke-width="1.4" stroke-linejoin="round"/><text x="21.6" y="13.1" class="tt" textLength="21.9" lengthAdjust="spacingAndGlyphs">BRENT</text><text x="47.6" y="13.1" class="tt" textLength="28.6" lengthAdjust="spacingAndGlyphs">CRUDE,</text><text x="79.7" y="13.1" class="tt" textLength="21.0" lengthAdjust="spacingAndGlyphs">DAILY</text><text x="104.1" y="13.1" class="tt" textLength="14.2" lengthAdjust="spacingAndGlyphs">JUN</text><circle cx="127.1" cy="9.3" r="2.1" fill="none" stroke="#d4d4d4" stroke-width="1.1"/><line x1="128.6" y1="10.9" x2="131.4" y2="13.6" stroke="#d4d4d4" stroke-width="1.3" stroke-linecap="round"/><line x1="765.6" y1="13.3" x2="772.5" y2="13.3" stroke="#d8d8d8" stroke-width="1"/><path d="M777.7,9.2 H782.6 V13.6 H777.7 Z M779.5,11.4 H784 M782.6,7.6 L785.4,7.6 M784,6.2 V9" fill="none" stroke="#d8d8d8" stroke-width="1"/><path d="M790,6.2 L797.8,13.8 M797.8,6.2 L790,13.8" stroke="#d8d8d8" stroke-width="1"/><rect x="0" y="19.6" width="801" height="20.4" fill="#ffffff"/><line x1="0" y1="40.4" x2="801" y2="40.4" stroke="#a0a0a0" stroke-width="1"/><text x="6.4" y="32.7" class="tb">4 hours</text><text x="48.8" y="32.7" class="tb">Technical</text><text x="97.5" y="32.7" class="tb">Display</text><text x="138.9" y="32.7" class="tb">More</text><path d="M34.9,29.3 H39.6 L37.2,32.1 Z" fill="#3a3a3a"/><path d="M83.8,29.3 H88.5 L86.1,32.1 Z" fill="#3a3a3a"/><path d="M124.9,29.3 H129.6 L127.2,32.1 Z" fill="#3a3a3a"/><path d="M159.2,29.3 H163.9 L161.6,32.1 Z" fill="#3a3a3a"/><path d="M173.8,33 V27.5 Q173.8,27.1 174.2,27.1 H176.2 L177,28 H179.6 Q180,28 180,28.4 V29.4" fill="none" stroke="#6a6a6a" stroke-width="1"/><path d="M175.1,29.6 H181.9 L180.4,33.3 H173.5 Z" fill="#2a2a2a"/><rect x="190.85" y="27.05" width="6.9" height="6.5" rx="0.9" fill="none" stroke="#2a2a2a" stroke-width="1.3"/><rect x="190.8" y="27" width="7" height="3.2" fill="#2a2a2a"/><rect x="192.5" y="27.6" width="3.5" height="1.5" fill="#fff"/><rect x="206.2" y="29.4" width="7" height="1.6" fill="#222"/><rect x="221.2" y="29.4" width="6.9" height="1.6" fill="#222"/><rect x="223.8" y="26.8" width="1.7" height="6.9" fill="#222"/><text x="635.1" y="33.2" class="cp" textLength="32.5" lengthAdjust="spacingAndGlyphs">CURRENT</text><text x="672.1" y="33.2" class="cp" textLength="23.1" lengthAdjust="spacingAndGlyphs">PRICE:</text><rect x="705" y="24" width="44.8" height="11.9" fill="#c9303e"/><rect x="756.1" y="24" width="44.9" height="11.9" fill="#1d98a5"/><path d="M709.8,25.2 h1.8 v1.2 h0.8 l-1.7,1.6 l-1.7,-1.6 h0.8 z" fill="#6a0d18"/><path d="M795.2,27.9 h1.8 v-1.2 h0.8 l-1.7,-1.6 l-1.7,1.6 h0.8 z" fill="#0c5057"/><text x="727.6" y="32.3" class="pr" text-anchor="middle">11158</text><text x="778.8" y="32.3" class="pr" text-anchor="middle">11162</text></g>
</svg></body></html>
